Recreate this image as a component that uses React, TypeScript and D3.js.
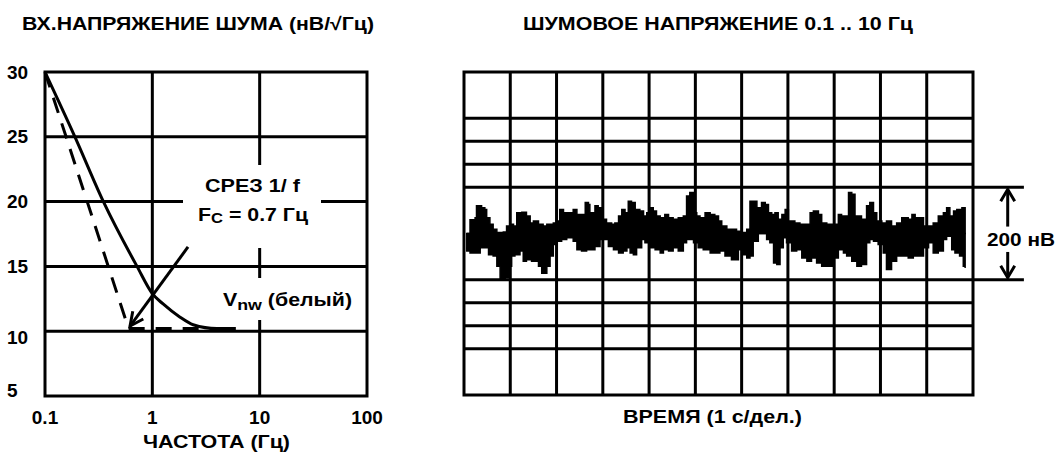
import React from "react";
import * as d3 from "d3";

// left chart: input noise density vs frequency
const densityTicks = [5, 10, 15, 20, 25, 30];
const densityGrid = [10, 15, 20, 25];
const freqTicks = [0.1, 1, 10, 100];
const freqTickLabels = ["0.1", "1", "10", "100"];
const freqGrid = [1, 10];

const totalFreq = [0.1, 0.19, 0.35, 0.72, 1, 1.26, 1.8, 2.4, 4, 6];
const totalNoise = [30, 25, 20, 15, 12.9, 12.1, 11.1, 10.5, 10.2, 10.2];

const asymptoteFreq = [0.1, 0.6, 6];
const asymptoteNoise = [30, 10.2, 10.2];

// arrow from the 1/f corner label to the corner
const cornerArrowFreq = [2.15, 0.62];
const cornerArrowNoise = [16.5, 10.4];

// right chart: 0.1..10 Hz noise, 1 s/div, nV
const timeGrid = [1, 2, 3, 4, 5, 6, 7, 8, 9, 10];
const voltGrid = [-250, -200, -150, -100, 100, 150, 200, 250];

const upperT = [0.06, 0.13, 0.24, 0.27, 0.38, 0.45, 0.49, 0.56, 0.63, 0.71, 0.85, 0.92, 0.99, 1.07, 1.14, 1.25, 1.35, 1.43, 1.5, 1.61, 1.71, 1.79, 1.93, 2.04, 2.07, 2.15, 2.25, 2.36, 2.44, 2.54, 2.62, 2.69, 2.72, 2.8, 2.83, 2.9, 2.98, 3.08, 3.19, 3.26, 3.34, 3.41, 3.48, 3.55, 3.62, 3.7, 3.8, 3.88, 3.95, 4.02, 4.09, 4.16, 4.24, 4.34, 4.42, 4.52, 4.63, 4.74, 4.81, 4.88, 4.96, 5.03, 5.1, 5.21, 5.32, 5.42, 5.5, 5.57, 5.68, 5.78, 5.89, 6.0, 6.11, 6.18, 6.25, 6.33, 6.43, 6.51, 6.58, 6.65, 6.72, 6.79, 6.87, 6.94, 7.01, 7.08, 7.15, 7.26, 7.37, 7.48, 7.55, 7.66, 7.73, 7.84, 7.98, 8.09, 8.16, 8.23, 8.31, 8.38, 8.45, 8.59, 8.7, 8.77, 8.85, 8.92, 9.03, 9.13, 9.24, 9.35, 9.46, 9.53, 9.6, 9.68, 9.75, 9.82, 9.93, 10.04, 10.14, 10.25, 10.36, 10.43, 10.5, 10.58, 10.65, 10.76, 10.83];
const upperV = [0, 30, 34, 60, 56, 52, 34, 20, 9, 2, 3, 16, 20, 16, 45, 46, 38, 23, 27, 20, 16, 20, 23, 27, 52, 45, 45, 52, 41, 41, 67, 63, 45, 41, 60, 56, 31, 23, 20, 23, 38, 52, 45, 70, 67, 52, 49, 38, 45, 56, 49, 38, 34, 41, 34, 31, 34, 38, 81, 89, 45, 38, 34, 45, 41, 38, 27, 16, 9, 9, 5, 2, 9, 70, 70, 56, 67, 63, 45, 41, 45, 31, 41, 52, 27, 27, 23, 20, 20, 45, 49, 41, 23, 20, 20, 41, 38, 38, 89, 85, 38, 31, 60, 67, 45, 27, 23, 27, 16, 23, 34, 34, 31, 41, 34, 34, 16, 16, 23, 38, 45, 56, 38, 49, 52, 56, 38];

const lowerT = [0.06, 0.13, 0.27, 0.35, 0.45, 0.53, 0.63, 0.71, 0.78, 0.89, 0.96, 1.03, 1.1, 1.21, 1.28, 1.35, 1.46, 1.61, 1.68, 1.79, 1.86, 1.93, 2.0, 2.11, 2.22, 2.36, 2.44, 2.54, 2.65, 2.76, 2.83, 2.94, 3.01, 3.12, 3.23, 3.34, 3.44, 3.52, 3.59, 3.66, 3.73, 3.84, 3.91, 4.02, 4.13, 4.24, 4.31, 4.42, 4.52, 4.63, 4.74, 4.81, 4.96, 5.06, 5.17, 5.32, 5.42, 5.53, 5.64, 5.78, 5.93, 6.04, 6.11, 6.18, 6.25, 6.36, 6.47, 6.54, 6.61, 6.69, 6.76, 6.83, 6.9, 6.97, 7.08, 7.19, 7.3, 7.41, 7.51, 7.62, 7.73, 7.87, 7.98, 8.09, 8.2, 8.27, 8.38, 8.49, 8.59, 8.7, 8.77, 8.85, 8.95, 9.06, 9.13, 9.24, 9.35, 9.46, 9.6, 9.71, 9.82, 9.93, 10.04, 10.14, 10.25, 10.36, 10.43, 10.54, 10.61, 10.71, 10.79, 10.83];
const lowerV = [-38, -42, -42, -31, -31, -46, -49, -71, -100, -96, -71, -49, -46, -38, -60, -57, -60, -71, -86, -71, -49, -24, -17, -13, -9, -17, -35, -38, -35, -35, -28, -13, -13, -28, -35, -42, -38, -31, -42, -46, -31, -13, -20, -31, -35, -42, -35, -38, -31, -38, -20, -13, -20, -31, -35, -42, -42, -38, -49, -57, -35, -46, -53, -49, -17, 2, 2, -13, -20, -64, -67, -31, -9, -20, -38, -35, -53, -60, -53, -64, -71, -71, -53, -35, -42, -49, -60, -71, -67, -20, -13, -17, -24, -42, -78, -60, -49, -49, -53, -49, -49, -31, -20, -42, -38, -13, -6, -35, -42, -49, -71, -75];

const W = 1059;
const H = 453;
const FONT = "'Liberation Sans', Arial, sans-serif";
const LW = 3;

export default function App() {
  const x = d3.scaleLog().domain([0.1, 100]).range([45, 367]);
  const y = d3.scaleLinear().domain([5, 30]).range([396, 72]);
  const tx = d3.scaleLinear().domain([0, 11]).range([464, 973]);
  const vy = d3.scaleLinear().domain([-350, 350]).range([395, 72]);

  const curve = d3
    .line<number>()
    .x((_, i) => x(totalFreq[i]))
    .y((d) => y(d))
    .curve(d3.curveMonotoneX);
  const asym = d3
    .line<number>()
    .x((_, i) => x(asymptoteFreq[i]))
    .y((d) => y(d));

  const upperArea = d3
    .area<number>()
    .x((_, i) => tx(upperT[i]))
    .y0(vy(0))
    .y1((d) => vy(d))
    .curve(d3.curveStepAfter);
  const lowerArea = d3
    .area<number>()
    .x((_, i) => tx(lowerT[i]))
    .y0(vy(0))
    .y1((d) => vy(d))
    .curve(d3.curveStepAfter);

  // arrow geometry
  const ax0 = x(cornerArrowFreq[0]);
  const ay0 = y(cornerArrowNoise[0]);
  const ax1 = x(cornerArrowFreq[1]);
  const ay1 = y(cornerArrowNoise[1]);
  const ang = Math.atan2(ay0 - ay1, ax0 - ax1);
  const wing = 15;
  const spread = 0.45;
  const head = [
    [ax1 + wing * Math.cos(ang - spread), ay1 + wing * Math.sin(ang - spread)],
    [ax1, ay1],
    [ax1 + wing * Math.cos(ang + spread), ay1 + wing * Math.sin(ang + spread)],
  ];

  const barX = tx(11.75);
  const extEnd = tx(12.1);

  const tickDy: Record<number, number> = { 5: -6, 10: 6 };

  return (
    <svg
      width={W}
      height={H}
      style={{ position: "absolute", left: 0, top: 0, background: "#fff" }}
      fontFamily={FONT}
      fontWeight="bold"
    >
      {/* ---------- left chart ---------- */}
      <text x={22} y={30} fontSize={18} textLength={352} lengthAdjust="spacingAndGlyphs">
        ВХ.НАПРЯЖЕНИЕ ШУМА (нВ/√Гц)
      </text>

      {densityGrid.map((v) => (
        <line key={"h" + v} x1={x(0.1)} x2={x(100)} y1={y(v)} y2={y(v)} stroke="#000" strokeWidth={LW} />
      ))}
      {freqGrid.map((f) => (
        <line key={"v" + f} x1={x(f)} x2={x(f)} y1={y(5)} y2={y(30)} stroke="#000" strokeWidth={LW} />
      ))}
      <rect
        x={x(0.1)}
        y={y(30)}
        width={x(100) - x(0.1)}
        height={y(5) - y(30)}
        fill="none"
        stroke="#000"
        strokeWidth={LW}
      />

      {densityTicks.map((v) => (
        <text key={"yt" + v} x={7} y={y(v) + (tickDy[v] || 0)} dy="0.35em" fontSize={19}>
          {v}
        </text>
      ))}
      {freqTicks.map((f, i) => (
        <text key={"xt" + f} x={x(f)} y={417} dy="0.35em" fontSize={19} textAnchor="middle">
          {freqTickLabels[i]}
        </text>
      ))}
      <text x={143} y={442} dy="0.35em" fontSize={18} textLength={147} lengthAdjust="spacingAndGlyphs">
        ЧАСТОТА (Гц)
      </text>

      <path d={asym(asymptoteNoise) || ""} fill="none" stroke="#000" strokeWidth={LW} strokeDasharray="16,11" />
      <path d={curve(totalNoise) || ""} fill="none" stroke="#000" strokeWidth={LW} />

      {/* label knock-outs */}
      <rect x={183} y={165} width={138} height={83} fill="#fff" />
      <rect x={215} y={278} width={145} height={42} fill="#fff" />

      <line x1={ax0} y1={ay0} x2={ax1} y2={ay1} stroke="#000" strokeWidth={LW} />
      <polyline points={head.map((p) => p.join(",")).join(" ")} fill="none" stroke="#000" strokeWidth={LW} />

      <text x={205} y={186} dy="0.35em" fontSize={18} textLength={95} lengthAdjust="spacingAndGlyphs">
        СРЕЗ 1/ f
      </text>
      <text x={198} y={215} dy="0.35em" fontSize={18} textLength={110} lengthAdjust="spacingAndGlyphs">
        F<tspan fontSize={14} dy={2}>C</tspan>
        <tspan dy={-2}> = 0.7 Гц</tspan>
      </text>
      <text x={223} y={300} dy="0.35em" fontSize={18} textLength={129} lengthAdjust="spacingAndGlyphs">
        V<tspan fontSize={15} dy={4}>nw</tspan>
        <tspan dy={-4}> (белый)</tspan>
      </text>

      {/* ---------- right chart ---------- */}
      <text x={523} y={30} fontSize={18} textLength={390} lengthAdjust="spacingAndGlyphs">
        ШУМОВОЕ НАПРЯЖЕНИЕ 0.1 .. 10 Гц
      </text>

      <path d={upperArea(upperV) || ""} fill="#000" stroke="#000" strokeWidth={1.5} />
      <path d={lowerArea(lowerV) || ""} fill="#000" stroke="#000" strokeWidth={1.5} />

      {voltGrid.map((v) => (
        <line key={"vg" + v} x1={tx(0)} x2={tx(11)} y1={vy(v)} y2={vy(v)} stroke="#000" strokeWidth={LW} />
      ))}
      {timeGrid.map((t) => (
        <line key={"tg" + t} x1={tx(t)} x2={tx(t)} y1={vy(-350)} y2={vy(350)} stroke="#000" strokeWidth={LW} />
      ))}
      <rect
        x={tx(0)}
        y={vy(350)}
        width={tx(11) - tx(0)}
        height={vy(-350) - vy(350)}
        fill="none"
        stroke="#000"
        strokeWidth={LW}
      />

      {/* 200 nV scale marker */}
      {[100, -100].map((v) => (
        <line key={"ext" + v} x1={tx(11)} x2={extEnd} y1={vy(v)} y2={vy(v)} stroke="#000" strokeWidth={LW} />
      ))}
      <line x1={barX} x2={barX} y1={vy(100) + 2} y2={vy(15)} stroke="#000" strokeWidth={LW} />
      <line x1={barX} x2={barX} y1={vy(-40)} y2={vy(-100) - 2} stroke="#000" strokeWidth={LW} />
      <polyline
        points={`${barX - 7},${vy(100) + 14} ${barX},${vy(100) + 2} ${barX + 7},${vy(100) + 14}`}
        fill="none"
        stroke="#000"
        strokeWidth={LW}
      />
      <polyline
        points={`${barX - 7},${vy(-100) - 14} ${barX},${vy(-100) - 2} ${barX + 7},${vy(-100) - 14}`}
        fill="none"
        stroke="#000"
        strokeWidth={LW}
      />
      <text x={987} y={240} dy="0.35em" fontSize={18} textLength={68} lengthAdjust="spacingAndGlyphs">
        200 нВ
      </text>

      <text x={623} y={417} dy="0.35em" fontSize={18} textLength={179} lengthAdjust="spacingAndGlyphs">
        ВРЕМЯ (1 с/дел.)
      </text>
    </svg>
  );
}
